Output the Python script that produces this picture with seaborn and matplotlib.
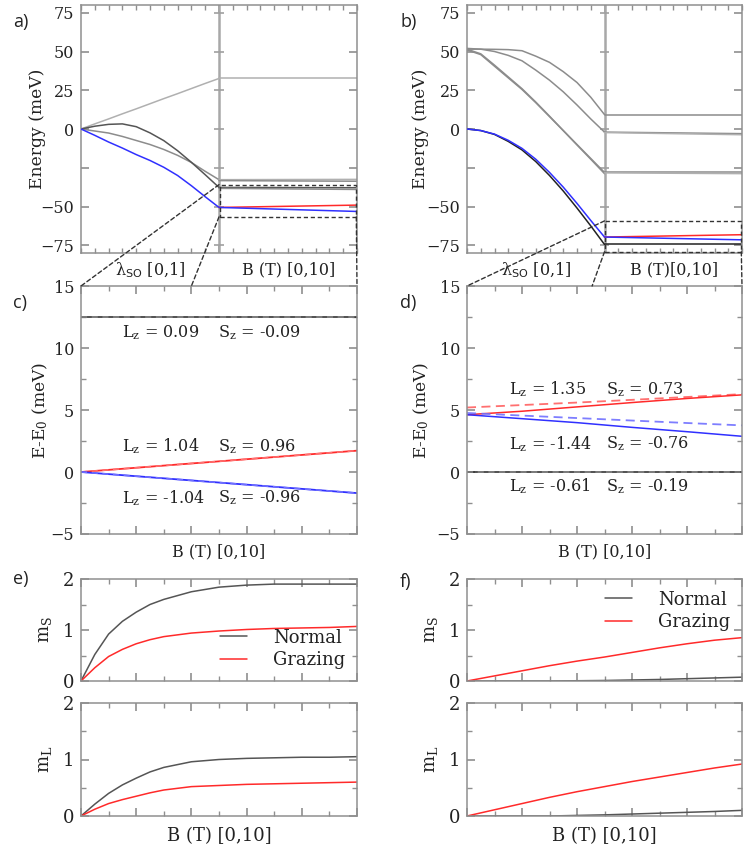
import numpy as np
import matplotlib
matplotlib.use("Agg")
import matplotlib.pyplot as plt
import seaborn as sns
from matplotlib.patches import ConnectionPatch, Rectangle
from matplotlib.lines import Line2D
from matplotlib.ticker import MultipleLocator, FixedLocator, NullLocator

sns.set_style("ticks")
SPINE = "#8f8f8f"
plt.rcParams.update({
    "font.family": ["DejaVu Serif"],
    "mathtext.fontset": "dejavuserif",
    "axes.edgecolor": SPINE, "axes.linewidth": 1.1,
    "axes.labelcolor": "#222222", "text.color": "#222222",
    "xtick.labelcolor": "#222222", "ytick.labelcolor": "#222222",
})

# ---------------- data ----------------
lam = [0.0, 0.1, 0.2, 0.3, 0.4, 0.5, 0.6, 0.7, 0.8, 0.9, 1.0]
B_end = [0, 10]
B_d = [0, 2, 4, 6, 8, 10]
B_e = [0, 0.5, 1, 1.5, 2, 2.5, 3, 4, 5, 6, 7, 8, 9, 10]
B_f = [0, 1, 2, 3, 4, 5, 6, 7, 8, 9, 10]

# panel a (lambda_SO sweep)
a_lam_light = [0, 3.3, 6.5, 9.8, 13.0, 16.3, 19.6, 22.8, 26.1, 29.4, 32.6]
a_lam_dark = [0, 1.8, 3.0, 3.3, 1.5, -2.5, -7.5, -14.0, -21.5, -29.5, -37.7]
a_lam_mid = [0, -1.3, -2.6, -4.8, -7.4, -10.0, -13.2, -17.0, -21.6, -27.3, -32.7]
a_lam_blue = [0, -4.1, -8.4, -12.3, -16.5, -20.3, -24.7, -30.0, -36.6, -43.7, -50.6]
# panel a (B sweep)
a_B_light = [32.6, 32.6]
a_B_mid1 = [-32.7, -32.5]
a_B_mid2 = [-33.3, -33.7]
a_B_dark1 = [-37.7, -37.9]
a_B_dark2 = [-38.3, -39.0]
a_B_red = [-50.6, -49.1]
a_B_blue = [-50.6, -53.2]

# panel b (lambda_SO sweep)
b_lam_g1 = [51.5, 51.5, 51.4, 51.2, 50.5, 47.0, 43.0, 37.0, 30.0, 20.5, 9.3]
b_lam_g2 = [52.0, 51.5, 50.0, 47.5, 44.0, 38.0, 31.5, 24.0, 15.5, 6.5, -2.0]
b_lam_g3 = [51.0, 48.0, 40.5, 33.0, 25.5, 17.0, 8.0, -1.0, -10.0, -19.0, -28.0]
b_lam_g4 = [51.5, 48.5, 41.2, 33.6, 26.0, 17.4, 8.3, -1.0, -10.3, -19.5, -28.8]
b_lam_black = [0, -1.0, -3.5, -8.0, -13.5, -21.0, -30.0, -40.0, -51.0, -62.5, -74.5]
b_lam_blue = [0, -1.0, -3.3, -7.3, -12.5, -19.5, -28.0, -37.5, -48.0, -59.0, -69.7]
# panel b (B sweep)
b_B_g1 = [9.3, 9.3]
b_B_g2a = [-2.0, -3.0]
b_B_g2b = [-2.3, -3.7]
b_B_g3 = [-28.0, -28.0]
b_B_g4 = [-28.3, -28.8]
b_B_black = [-74.5, -74.5]
b_B_red = [-69.7, -68.2]
b_B_blue = [-69.7, -71.5]

# panel c
c_black = [12.5, 12.5]
c_red = [0.0, 1.72]
c_blue = [0.0, -1.70]

# panel d
d_red = [4.62, 4.90, 5.25, 5.60, 5.93, 6.22]
d_red_dash = [5.20, 5.40, 5.60, 5.82, 6.05, 6.28]
d_blue = [4.62, 4.30, 3.98, 3.60, 3.25, 2.88]
d_blue_dash = [4.76, 4.55, 4.35, 4.15, 3.95, 3.76]
d_black = [0.0, 0.0, 0.0, 0.0, 0.0, 0.0]

# panel e
e_mS_normal = [0, 0.52, 0.92, 1.17, 1.35, 1.50, 1.60, 1.75, 1.84, 1.88, 1.90, 1.90, 1.90, 1.90]
e_mS_grazing = [0, 0.26, 0.48, 0.62, 0.73, 0.81, 0.87, 0.94, 0.98, 1.01, 1.03, 1.04, 1.05, 1.07]
e_mL_normal = [0, 0.21, 0.40, 0.55, 0.67, 0.78, 0.86, 0.96, 1.00, 1.02, 1.03, 1.04, 1.04, 1.05]
e_mL_grazing = [0, 0.12, 0.22, 0.29, 0.35, 0.41, 0.46, 0.52, 0.54, 0.56, 0.57, 0.58, 0.59, 0.60]

# panel f
f_mS_normal = [0, 0, 0, 0, 0.005, 0.01, 0.02, 0.03, 0.045, 0.06, 0.075]
f_mS_grazing = [0, 0.10, 0.20, 0.30, 0.39, 0.47, 0.56, 0.65, 0.73, 0.80, 0.85]
f_mL_normal = [0, 0, 0, 0, 0.01, 0.02, 0.035, 0.05, 0.065, 0.08, 0.10]
f_mL_grazing = [0, 0.11, 0.22, 0.33, 0.43, 0.52, 0.61, 0.69, 0.77, 0.85, 0.92]

legend_labels = ["Normal", "Grazing"]
energy_ticks = [-75, -50, -25, 0, 25, 50, 75]
energy_ticklabels = ["\u221275", "\u221250", "", "0", "25", "50", "75"]

# ---------------- style ----------------
RED = "#ff2a2a"
BLUE = "#3030ff"
BLACK = "#222222"
DARK = "#555555"
MID = "#8c8c8c"
LIGHT = "#b0b0b0"
FS = 11.5
FS_E = 13

W, H = 748, 844
fig = plt.figure(figsize=(W / 100, H / 100), dpi=100)


def rect(l, t, r, b):
    return [l / W, 1 - b / H, (r - l) / W, (b - t) / H]


def style_ax(ax, fs):
    for s in ax.spines.values():
        s.set_color(SPINE)
        s.set_linewidth(1.1)
    ax.tick_params(which="both", direction="in", bottom=True, left=True,
                   top=True, right=True, color=SPINE, labelsize=fs, pad=5)
    ax.tick_params(which="major", length=6, width=1.2)
    ax.tick_params(which="minor", length=3.5, width=1.0)
    ax.tick_params(axis="x", which="both", labelbottom=False)


def line(ax, x, y, color, lw=1.1, ls="-", alpha=1.0, z=2):
    sns.lineplot(x=x, y=y, ax=ax, color=color, linewidth=lw, linestyle=ls,
                 alpha=alpha, zorder=z, legend=False, estimator=None, sort=False)


def xB(vals):
    return [1 + v / 10 for v in vals]


def energy_panel(ax, ylab_x, b_label):
    style_ax(ax, FS)
    ax.set_xlim(0, 2)
    ax.set_ylim(-80, 80)
    ax.yaxis.set_major_locator(FixedLocator(energy_ticks))
    ax.set_yticklabels(energy_ticklabels)
    ax.yaxis.set_minor_locator(NullLocator())
    ax.xaxis.set_major_locator(FixedLocator([1.0]))
    ax.xaxis.set_minor_locator(MultipleLocator(0.1))
    ax.axvline(1.0, color="#a8a8a8", lw=1.8, zorder=1)
    ax.hlines(energy_ticks, 1 - 0.035, 1 + 0.035, color="#a0a0a0", lw=1.2, zorder=1)
    ax.set_ylabel("Energy (meV)", fontsize=12.3)
    ax.yaxis.set_label_coords(ylab_x, 0.5)
    ax.yaxis.label.set_va("center")
    ax.set_xlabel("")
    ax.text(0.5, -0.069, "\u03bb$_{\\mathsf{SO}}$ [0,1]", transform=ax.get_xaxis_transform(),
            ha="center", va="center", fontsize=FS)
    ax.text(1.505, -0.069, b_label, transform=ax.get_xaxis_transform(),
            ha="center", va="center", fontsize=FS)


# ---------------- panel a ----------------
ax_a = fig.add_axes(rect(81, 5, 357, 253))
line(ax_a, lam, a_lam_light, LIGHT)
line(ax_a, lam, a_lam_mid, MID)
line(ax_a, lam, a_lam_dark, DARK)
line(ax_a, lam, a_lam_blue, BLUE, z=3)
line(ax_a, xB(B_end), a_B_light, LIGHT)
line(ax_a, xB(B_end), a_B_mid1, LIGHT)
line(ax_a, xB(B_end), a_B_mid2, MID)
line(ax_a, xB(B_end), a_B_dark1, DARK)
line(ax_a, xB(B_end), a_B_dark2, MID)
line(ax_a, xB(B_end), a_B_red, RED, z=3)
line(ax_a, xB(B_end), a_B_blue, BLUE, z=3)
energy_panel(ax_a, -0.159, "B (T) [0,10]")

# ---------------- panel b ----------------
ax_b = fig.add_axes(rect(467, 5, 742, 253))
line(ax_b, lam, b_lam_g1, MID)
line(ax_b, lam, b_lam_g2, MID)
line(ax_b, lam, b_lam_g3, MID)
line(ax_b, lam, b_lam_g4, MID)
line(ax_b, lam, b_lam_black, BLACK)
line(ax_b, lam, b_lam_blue, BLUE, z=3)
line(ax_b, xB(B_end), b_B_g1, MID)
line(ax_b, xB(B_end), b_B_g2a, MID)
line(ax_b, xB(B_end), b_B_g2b, LIGHT)
line(ax_b, xB(B_end), b_B_g3, MID)
line(ax_b, xB(B_end), b_B_g4, LIGHT)
line(ax_b, xB(B_end), b_B_black, BLACK)
line(ax_b, xB(B_end), b_B_red, RED, z=3)
line(ax_b, xB(B_end), b_B_blue, BLUE, z=3)
energy_panel(ax_b, -0.168, "B (T)[0,10]")


def de_panel(ax, ylab_x):
    style_ax(ax, FS)
    ax.set_xlim(0, 10)
    ax.set_ylim(-5, 15)
    ax.yaxis.set_major_locator(MultipleLocator(5))
    ax.yaxis.set_minor_locator(MultipleLocator(2.5))
    ax.xaxis.set_major_locator(MultipleLocator(2))
    ax.xaxis.set_minor_locator(MultipleLocator(1))
    ax.set_ylabel("E-E$_0$ (meV)", fontsize=12.3)
    ax.yaxis.set_label_coords(ylab_x, 0.5)
    ax.yaxis.label.set_va("center")
    ax.set_xlabel("B (T) [0,10]", fontsize=FS)
    ax.xaxis.set_label_coords(0.5, -0.071)
    ax.xaxis.label.set_va("center")


def lz_sz(ax, xl, xs, y, lz, sz):
    ax.text(xl, y, "L$_\\mathrm{z}$ = " + lz, ha="left", va="center", fontsize=FS)
    ax.text(xs, y, "S$_\\mathrm{z}$ = " + sz, ha="left", va="center", fontsize=FS)


# ---------------- panel c ----------------
ax_c = fig.add_axes(rect(81, 286, 357, 534))
line(ax_c, B_end, c_black, BLACK)
line(ax_c, B_end, c_black, "#888888", ls=(0, (4, 3)))
line(ax_c, B_end, c_red, RED, lw=1.3)
line(ax_c, B_end, c_red, "#ff7070", ls=(0, (4, 3)))
line(ax_c, B_end, c_blue, BLUE, lw=1.3)
line(ax_c, B_end, c_blue, "#7070ff", ls=(0, (4, 3)))
de_panel(ax_c, -0.149)
lz_sz(ax_c, 1.47, 4.96, 11.26, "0.09", "-0.09")
lz_sz(ax_c, 1.47, 4.96, 2.07, "1.04", "0.96")
lz_sz(ax_c, 1.47, 4.96, -2.1, "-1.04", "-0.96")

# ---------------- panel d ----------------
ax_d = fig.add_axes(rect(467, 286, 742, 534))
line(ax_d, B_d, d_black, BLACK)
line(ax_d, B_d, d_black, "#888888", ls=(0, (4, 3)))
line(ax_d, B_d, d_red_dash, "#ff6060", ls=(0, (5, 3)), lw=1.3, alpha=0.9)
line(ax_d, B_d, d_red, RED)
line(ax_d, B_d, d_blue_dash, "#7070ff", ls=(0, (5, 3)), lw=1.3, alpha=0.9)
line(ax_d, B_d, d_blue, BLUE)
de_panel(ax_d, -0.168)
lz_sz(ax_d, 1.53, 5.04, 6.65, "1.35", "0.73")
lz_sz(ax_d, 1.53, 5.04, 2.28, "-1.44", "-0.76")
lz_sz(ax_d, 1.53, 5.04, -1.16, "-0.61", "-0.19")


def m_panel(ax, ylabel, ylab_x):
    style_ax(ax, FS_E)
    ax.set_xlim(0, 10)
    ax.set_ylim(0, 2)
    ax.yaxis.set_major_locator(MultipleLocator(1))
    ax.yaxis.set_minor_locator(MultipleLocator(0.5))
    ax.xaxis.set_major_locator(MultipleLocator(2))
    ax.xaxis.set_minor_locator(MultipleLocator(1))
    ax.set_ylabel(ylabel, fontsize=FS_E)
    ax.yaxis.set_label_coords(ylab_x, 0.5)
    ax.yaxis.label.set_va("center")
    ax.set_xlabel("")


def legend(ax, loc, anchor):
    handles = [Line2D([], [], color=DARK, lw=1.1), Line2D([], [], color=RED, lw=1.1)]
    ax.legend(handles, legend_labels, loc=loc, bbox_to_anchor=anchor, frameon=False,
              fontsize=FS_E, handlelength=1.5, handletextpad=1.45, labelspacing=0.25,
              borderaxespad=0.25)


# ---------------- panel e ----------------
ax_e1 = fig.add_axes(rect(81, 579, 357, 681))
line(ax_e1, B_e, e_mS_normal, DARK)
line(ax_e1, B_e, e_mS_grazing, RED)
m_panel(ax_e1, "m$_\\mathrm{S}$", -0.13)
legend(ax_e1, "lower right", (1.0, 0.0))

ax_e2 = fig.add_axes(rect(81, 703, 357, 816))
line(ax_e2, B_e, e_mL_normal, DARK)
line(ax_e2, B_e, e_mL_grazing, RED)
m_panel(ax_e2, "m$_\\mathrm{L}$", -0.13)
ax_e2.set_xlabel("B (T) [0,10]", fontsize=FS_E)
ax_e2.xaxis.set_label_coords(0.5, -0.177)
ax_e2.xaxis.label.set_va("center")

# ---------------- panel f ----------------
ax_f1 = fig.add_axes(rect(467, 579, 742, 681))
line(ax_f1, B_f, f_mS_normal, DARK)
line(ax_f1, B_f, f_mS_grazing, RED)
m_panel(ax_f1, "m$_\\mathrm{S}$", -0.132)
legend(ax_f1, "upper right", (1.0, 1.0))

ax_f2 = fig.add_axes(rect(467, 703, 742, 816))
line(ax_f2, B_f, f_mL_normal, DARK)
line(ax_f2, B_f, f_mL_grazing, RED)
m_panel(ax_f2, "m$_\\mathrm{L}$", -0.132)
ax_f2.set_xlabel("B (T) [0,10]", fontsize=FS_E)
ax_f2.xaxis.set_label_coords(0.5, -0.177)
ax_f2.xaxis.label.set_va("center")

# ---------------- zoom boxes & connectors ----------------
DASH = dict(color="#333333", lw=1.0, linestyle=(0, (3, 2)))


def zoom(ax_src, ax_dst, y0, y1, x_mid):
    ax_src.add_patch(Rectangle((1.005, y0), 0.99, y1 - y0, fill=False, zorder=4,
                               clip_on=False, **DASH))
    for xyA, xyB in [((1.0, y1), (0, 15)), ((1.0, y0), (x_mid, 15)), ((1.995, y0), (10, 15))]:
        con = ConnectionPatch(xyA=xyA, coordsA=ax_src.transData, xyB=xyB,
                              coordsB=ax_dst.transData, **DASH)
        fig.add_artist(con)


zoom(ax_a, ax_c, -56.7, -35.9, 4.0)
zoom(ax_b, ax_d, -79.2, -59.3, 4.55)

# ---------------- panel letters ----------------
for lbl, x, y in [("a)", 13, 22), ("b)", 400, 22), ("c)", 13, 303), ("d)", 400, 303),
                  ("e)", 13, 579), ("f)", 400, 582)]:
    fig.text(x / W, 1 - y / H, lbl, ha="left", va="center", fontsize=13,
             family=["Open Sans", "DejaVu Sans"])

fig.savefig("out.png", dpi=100)
